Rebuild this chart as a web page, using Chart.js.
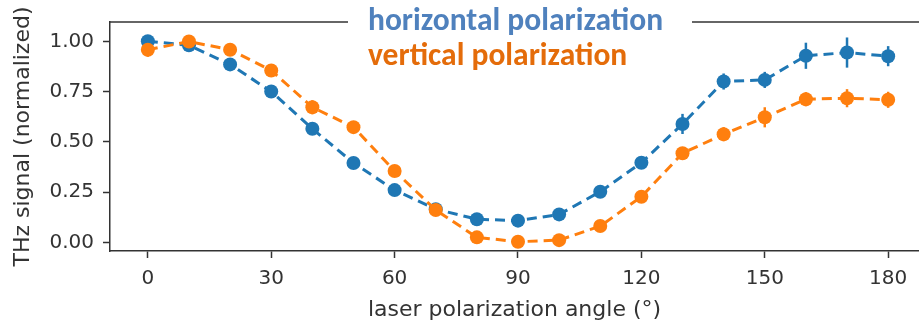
<!DOCTYPE html>
<html>
<head>
<meta charset="utf-8">
<script src="https://cdn.jsdelivr.net/npm/chart.js@4"></script>
<style>
  html, body { margin: 0; padding: 0; background: #fff; }
  #wrap { width: 919px; height: 322px; }
</style>
</head>
<body>
<div id="wrap"><canvas id="thzChart" width="919" height="322"></canvas></div>
<script>
// data
const angles = [0, 10, 20, 30, 40, 50, 60, 70, 80, 90, 100, 110, 120, 130, 140, 150, 160, 170, 180];
const horizontal = [1.00, 0.98, 0.885, 0.75, 0.565, 0.395, 0.26, 0.165, 0.115, 0.108, 0.139, 0.252, 0.396, 0.589, 0.80, 0.808, 0.928, 0.944, 0.926];
const horizontalErr = [0.02, 0.015, 0.02, 0.02, 0.02, 0.015, 0.02, 0.02, 0.01, 0.01, 0.01, 0.015, 0.015, 0.05, 0.04, 0.04, 0.065, 0.075, 0.05];
const vertical = [0.958, 0.999, 0.958, 0.855, 0.672, 0.573, 0.355, 0.161, 0.025, 0.003, 0.011, 0.081, 0.227, 0.443, 0.538, 0.622, 0.712, 0.717, 0.709];
const verticalErr = [0.035, 0.015, 0.03, 0.02, 0.035, 0.015, 0.03, 0.02, 0.01, 0.01, 0.01, 0.02, 0.02, 0.02, 0.035, 0.05, 0.035, 0.045, 0.04];
const xTicks = [0, 30, 60, 90, 120, 150, 180];
const yTicks = [0, 0.25, 0.5, 0.75, 1.0];
const seriesLabels = ['horizontal polarization', 'vertical polarization'];

const BLUE = '#1f77b4';
const ORANGE = '#ff7f0e';
const AXIS = '#333333';
const FONT = "'DejaVu Sans', sans-serif";

function toPoints(xs, ys) {
    return xs.map((x, i) => ({ x: x, y: ys[i] }));
}

// vertical error bars, drawn under the markers
const errorBars = {
    id: 'errorBars',
    beforeDatasetsDraw(chart) {
        const { ctx, scales: { x, y } } = chart;
        chart.data.datasets.forEach(ds => {
            ctx.save();
            ctx.strokeStyle = ds.borderColor;
            ctx.lineWidth = 2.5;
            ds.data.forEach((p, i) => {
                const px = x.getPixelForValue(p.x);
                ctx.beginPath();
                ctx.moveTo(px, y.getPixelForValue(p.y - ds.errors[i]));
                ctx.lineTo(px, y.getPixelForValue(p.y + ds.errors[i]));
                ctx.stroke();
            });
            ctx.restore();
        });
    }
};

// top spine plus the text legend that sits on it
const frameAndLegend = {
    id: 'frameAndLegend',
    afterDraw(chart) {
        const { ctx, chartArea } = chart;
        ctx.save();
        ctx.strokeStyle = AXIS;
        ctx.lineWidth = 1.5;
        ctx.beginPath();
        ctx.moveTo(chartArea.left, chartArea.top);
        ctx.lineTo(chartArea.right, chartArea.top);
        ctx.stroke();

        ctx.fillStyle = '#ffffff';
        ctx.fillRect(348, 0, 344, 38);

        ctx.font = "bold 31.5px Carlito, 'Open Sans', sans-serif";
        ctx.textAlign = 'left';
        ctx.textBaseline = 'alphabetic';
        ctx.fillStyle = '#4f81bd';
        ctx.fillText(seriesLabels[0], 368, 30, 298);
        ctx.fillStyle = '#e46c0a';
        ctx.fillText(seriesLabels[1], 368, 65, 260);
        ctx.restore();
    }
};

const ctx = document.getElementById('thzChart');

new Chart(ctx, {
    type: 'line',
    data: {
        datasets: [
            {
                label: seriesLabels[0],
                data: toPoints(angles, horizontal),
                errors: horizontalErr,
                borderColor: BLUE,
                backgroundColor: BLUE,
                borderWidth: 3,
                borderDash: [10, 6],
                pointRadius: 7,
                pointBorderWidth: 0,
                pointBackgroundColor: BLUE,
                tension: 0,
                order: 2
            },
            {
                label: seriesLabels[1],
                data: toPoints(angles, vertical),
                errors: verticalErr,
                borderColor: ORANGE,
                backgroundColor: ORANGE,
                borderWidth: 3,
                borderDash: [10, 6],
                pointRadius: 7,
                pointBorderWidth: 0,
                pointBackgroundColor: ORANGE,
                tension: 0,
                order: 1
            }
        ]
    },
    options: {
        responsive: false,
        animation: false,
        layout: {
            autoPadding: false,
            padding: { top: 22, left: 0, right: 0, bottom: 0 }
        },
        plugins: {
            legend: { display: false },
            tooltip: { enabled: false }
        },
        scales: {
            x: {
                type: 'linear',
                min: -9.2,
                max: 187.5,
                afterBuildTicks: axis => {
                    axis.ticks = xTicks.map(v => ({ value: v }));
                },
                afterFit: axis => {
                    axis.height = 71;
                    axis.paddingLeft = 0;
                    axis.paddingRight = 0;
                },
                grid: {
                    drawOnChartArea: false,
                    drawTicks: true,
                    tickLength: 7,
                    tickColor: AXIS,
                    tickWidth: 1.5
                },
                border: {
                    display: true,
                    color: AXIS,
                    width: 1.5
                },
                ticks: {
                    color: AXIS,
                    padding: 9,
                    maxRotation: 0,
                    autoSkip: false,
                    font: { family: FONT, size: 20 }
                },
                title: {
                    display: true,
                    text: 'laser polarization angle (°)',
                    color: AXIS,
                    font: { family: FONT, size: 22 },
                    padding: { top: 0, bottom: -1 }
                }
            },
            y: {
                type: 'linear',
                min: -0.043,
                max: 1.096,
                afterBuildTicks: axis => {
                    axis.ticks = yTicks.map(v => ({ value: v }));
                },
                afterFit: axis => {
                    axis.width = 110;
                    axis.paddingTop = 0;
                    axis.paddingBottom = 0;
                },
                grid: {
                    drawOnChartArea: false,
                    drawTicks: true,
                    tickLength: 7,
                    tickColor: AXIS,
                    tickWidth: 1.5
                },
                border: {
                    display: true,
                    color: AXIS,
                    width: 1.5
                },
                ticks: {
                    color: AXIS,
                    padding: 9,
                    font: { family: FONT, size: 20 },
                    callback: function(value) {
                        return value.toFixed(2);
                    }
                },
                title: {
                    display: true,
                    text: 'THz signal (normalized)',
                    color: AXIS,
                    font: { family: FONT, size: 22 },
                    padding: { top: 10, bottom: 0 }
                }
            }
        }
    },
    plugins: [errorBars, frameAndLegend]
});
</script>
</body>
</html>
